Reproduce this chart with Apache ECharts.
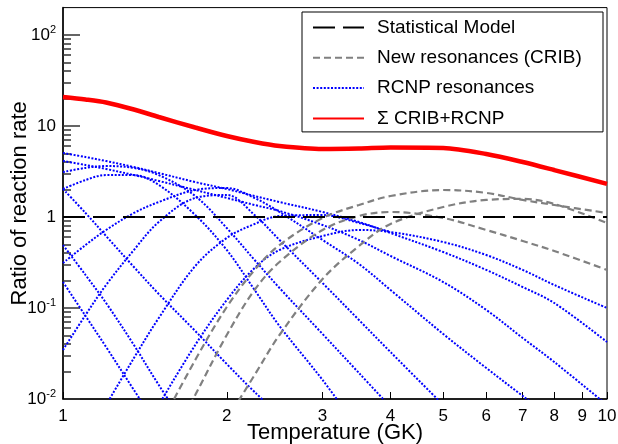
<!DOCTYPE html>
<html>
<head>
<meta charset="utf-8">
<script src="https://cdn.jsdelivr.net/npm/echarts@6/dist/echarts.min.js"></script>
<style>
  html, body { margin: 0; padding: 0; background: #fff; }
  #chart { width: 618px; height: 444px; }
</style>
</head>
<body>
<div id="chart"></div>
<script>
// temperatures (GK) the curves are read at
const temps = [1, 1.1, 1.2, 1.35, 1.5, 1.75, 2, 2.25, 2.5, 3, 3.5, 4, 5, 6, 7, 8, 10];

// statistical model = reference (ratio 1)
const statTemps = [1, 10];
const statRatio = [1, 1];

// sum CRIB + RCNP
const sumRatio = [20.8, 19.55, 18.12, 15.18, 12.56, 9.63, 7.76, 6.67, 6.03, 5.59, 5.66, 5.80, 5.73, 4.92, 4.02, 3.28, 2.31];

// new resonances (CRIB), null = not drawn
const cribA = [null, null, null, null, 0.0048, 0.0268, 0.1025, 0.262, 0.492, 0.975, 1.355, 1.70, 1.98, 1.84, 1.54, 1.355, 1.107];
const cribB = [null, null, null, null, 0.00193, 0.01107, 0.0505, 0.158, 0.320, 0.72, 1.026, 1.135, 0.975, 0.72, 0.545, 0.423, 0.262];
const cribC = [null, null, null, null, null, null, 0.00588, 0.01835, 0.0505, 0.208, 0.480, 0.838, 1.288, 1.54, 1.58, 1.39, 0.859];

// RCNP resonances
const rcnp1 = [5.05, 4.56, 4.12, 3.54, 3.04, 2.42, 2.03, 1.70, 1.46, 1.135, 0.881, 0.667, 0.412, 0.262, 0.170, 0.1135, 0.0423];
const rcnp2 = [4.12, 3.73, 3.37, 2.89, 2.49, 1.98, 1.62, 1.355, 1.164, 0.817, 0.559, 0.373, 0.193, 0.0951, 0.0468, 0.0255, 0.0086];
const rcnp3 = [3.12, 3.46, 3.63, 3.46, 2.89, 1.70, 0.757, 0.337, 0.166, 0.0518, 0.0193, 0.00817, null, null, null, null, null];
const rcnp4 = [2.03, 2.55, 2.89, 2.89, 2.25, 1.052, 0.434, 0.158, 0.0634, 0.0162, 0.00456, null, null, null, null, null, null];
const rcnp5 = [0.492, 0.2305, 0.1135, 0.0392, 0.01425, 0.00354, null, null, null, null, null, null, null, null, null, null, null];
const rcnp6 = [0.193, 0.0817, 0.0373, 0.01256, 0.0048, null, null, null, null, null, null, null, null, null, null, null, null];
const rcnp7 = [0.0346, 0.0838, 0.179, 0.434, 0.881, 1.618, 1.745, 1.052, 0.559, 0.188, 0.0738, 0.0328, 0.0086, null, null, null, null];
const rcnp8 = [0.312, 0.492, 0.720, 1.107, 1.462, 1.98, 2.083, 1.618, 1.135, 0.559, 0.3044, 0.1577, 0.0518, 0.0219, 0.0108, 0.00588, null];
const rcnp9 = [null, null, null, null, 0.0086, 0.0392, 0.1224, 0.275, 0.434, 0.618, 0.720, 0.684, 0.531, 0.382, 0.262, 0.179, 0.100];
const rcnp10 = [2.031, 1.107, 0.618, 0.282, 0.1425, 0.0559, 0.02424, 0.01194, 0.00667, null, null, null, null, null, null, null, null];
const rcnp11 = [null, null, 0.0086, 0.0282, 0.0777, 0.289, 0.588, 0.838, 1.026, 1.05, 0.86, 0.684, null, null, null, null, null];

const xTicks = [1, 2, 3, 4, 5, 6, 7, 8, 9, 10];
const yMajor = [0.01, 0.1, 1, 10, 100];
const yMinor = [0.02, 0.03, 0.04, 0.05, 0.06, 0.07, 0.08, 0.09,
                0.2, 0.3, 0.4, 0.5, 0.6, 0.7, 0.8, 0.9,
                2, 3, 4, 5, 6, 7, 8, 9,
                20, 30, 40, 50, 60, 70, 80, 90];

const FONT = "'Liberation Sans', Arial, Helvetica, sans-serif";

function pairs(xs, ys) {
  const out = [];
  for (let i = 0; i < xs.length; i++) {
    if (ys[i] != null) out.push([xs[i], ys[i]]);
  }
  return out;
}

let chart = echarts.init(document.getElementById("chart"));

let series = [];
[rcnp1, rcnp2, rcnp3, rcnp4, rcnp5, rcnp6, rcnp7, rcnp8, rcnp9, rcnp10, rcnp11].forEach(function (arr) {
  series.push({
    name: "RCNP resonances",
    type: "line",
    data: pairs(temps, arr),
    smooth: 0.35,
    symbol: "none",
    lineStyle: { color: "#0000ff", width: 2, type: [2, 1.6] },
    itemStyle: { color: "#0000ff" },
    z: 2
  });
});
[cribA, cribB, cribC].forEach(function (arr) {
  series.push({
    name: "New resonances (CRIB)",
    type: "line",
    data: pairs(temps, arr),
    smooth: 0.35,
    symbol: "none",
    lineStyle: { color: "#808080", width: 2.2, type: [7, 4] },
    itemStyle: { color: "#808080" },
    z: 3
  });
});
series.push({
  name: "Statistical Model",
  type: "line",
  data: pairs(statTemps, statRatio),
  symbol: "none",
  lineStyle: { color: "#000000", width: 2.2, type: [22, 8] },
  itemStyle: { color: "#000000" },
  z: 4
});
series.push({
  name: "\u03A3 CRIB+RCNP",
  type: "line",
  data: pairs(temps, sumRatio),
  smooth: 0.3,
  symbol: "none",
  lineStyle: { color: "#ff0000", width: 4.5 },
  itemStyle: { color: "#ff0000" },
  z: 5
});

let option = {
  animation: false,
  backgroundColor: "#ffffff",
  textStyle: { fontFamily: FONT },
  grid: {
    left: 63, right: 11, top: 7.6, bottom: 45,
    containLabel: false,
    outerBoundsMode: "none",
    show: true, borderColor: "#000", borderWidth: 1, backgroundColor: "transparent"
  },
  legend: {
    data: ["Statistical Model", "New resonances (CRIB)", "RCNP resonances", "\u03A3 CRIB+RCNP"],
    orient: "vertical",
    left: 302,
    top: 12,
    itemWidth: 51,
    itemHeight: 14,
    itemGap: 11.3,
    padding: [6, 14, 4, 10],
    backgroundColor: "#fff",
    borderColor: "#000",
    borderWidth: 1,
    borderRadius: 0,
    itemStyle: { opacity: 0 },
    textStyle: { fontFamily: FONT, fontSize: 19, color: "#000", lineHeight: 18, width: 212, padding: [0, 0, 0, 8] }
  },
  xAxis: {
    type: "log",
    min: 1,
    max: 10,
    name: "Temperature (GK)",
    nameLocation: "middle",
    nameGap: 23,
    nameMoveOverlap: false,
    nameTextStyle: { fontFamily: FONT, fontSize: 22, color: "#000" },
    axisLine: { show: true, lineStyle: { color: "#000", width: 1.5 } },
    axisTick: { show: true, inside: true, length: 7, customValues: xTicks, lineStyle: { color: "#000", width: 1 } },
    axisLabel: {
      customValues: xTicks, margin: 9, fontFamily: FONT, fontSize: 17, color: "#000",
      formatter: function (v) { return String(Math.round(v)); }
    },
    splitLine: { show: false },
    minorTick: { show: false }
  },
  yAxis: [{
    type: "log",
    position: "left",
    min: 0.01,
    max: 200,
    name: "Ratio of reaction rate",
    nameLocation: "middle",
    nameGap: 32,
    nameMoveOverlap: false,
    nameTextStyle: { fontFamily: FONT, fontSize: 22, color: "#000" },
    axisLine: { show: true, lineStyle: { color: "#000", width: 1.5 } },
    axisTick: { show: true, inside: true, length: 17, customValues: yMajor, lineStyle: { color: "#333", width: 1.5 } },
    axisLabel: {
      customValues: yMajor, margin: 7, fontFamily: FONT, fontSize: 17, color: "#000",
      formatter: function (v) {
        const p = Math.round(Math.log10(v));
        if (p === 0) return "1";
        if (p === 1) return "10";
        return "{b|10}{s|" + p + "}";
      },
      rich: {
        b: { fontFamily: FONT, fontSize: 17, lineHeight: 22, color: "#000" },
        s: { fontFamily: FONT, fontSize: 11, lineHeight: 12, verticalAlign: "top", color: "#000" }
      }
    },
    splitLine: { show: false }
  }, {
    type: "log",
    position: "left",
    offset: 0,
    min: 0.01,
    max: 200,
    axisLine: { show: false },
    axisTick: { show: true, inside: true, length: 8, customValues: yMinor, lineStyle: { color: "#333", width: 1.5 } },
    axisLabel: { show: false },
    splitLine: { show: false }
  }],
  series: series
};

chart.setOption(option);
</script>
</body>
</html>
